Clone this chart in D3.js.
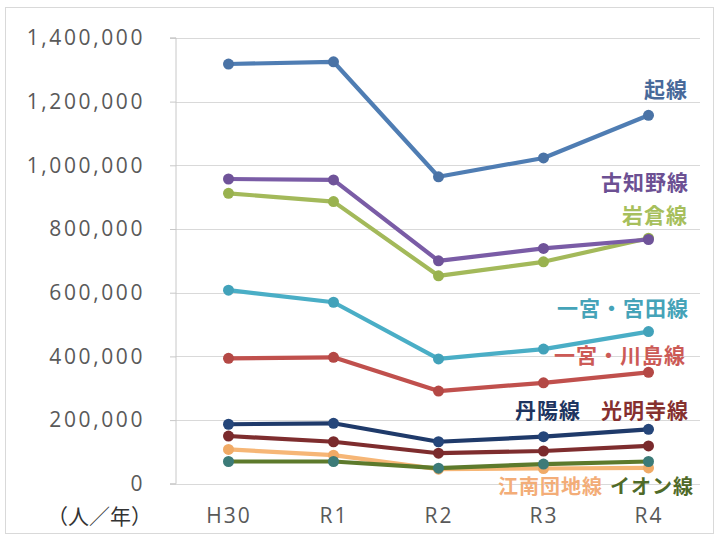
<!DOCTYPE html>
<html>
<head>
<meta charset="utf-8">
<script src="https://cdn.jsdelivr.net/npm/d3@7"></script>
<style>
  html, body { margin: 0; padding: 0; background: #ffffff; }
  svg { display: block; }
</style>
</head>
<body>
<svg id="chart" width="720" height="540"></svg>
<script>
// ---- data ----
const categories = ["H30", "R1", "R2", "R3", "R4"];
const yTicks = [0, 200000, 400000, 600000, 800000, 1000000, 1200000, 1400000];
const unitLabel = "（人／年）";

const okoshi    = [1318000, 1325000, 964000, 1023000, 1157000];
const iwakura   = [912000, 886000, 653000, 697000, 771000];
const kochino   = [957000, 954000, 700000, 739000, 767000];
const miyata    = [608000, 570000, 392000, 423000, 478000];
const kawashima = [394000, 397000, 291000, 317000, 350000];
const komyoji   = [150000, 132000, 96000, 103000, 119000];
const tanyo     = [187000, 190000, 132000, 148000, 171000];
const konan     = [108000, 90000, 46000, 48000, 50000];
const aeon      = [70000, 70000, 49000, 62000, 70000];

const seriesNames = ["起線", "岩倉線", "古知野線", "一宮・宮田線", "一宮・川島線", "光明寺線", "丹陽線", "江南団地線", "イオン線"];
const seriesValues = [okoshi, iwakura, kochino, miyata, kawashima, komyoji, tanyo, konan, aeon];

// ---- styles ----
const lineColors   = ["#4f7db3", "#a3b95a", "#7a5ca6", "#4aaec6", "#c0504d", "#7e2d2e", "#1f3a6a", "#f6b676", "#5d7a2c"];
const markerColors = ["#4a73a6", "#99b24f", "#6f5399", "#42a2ba", "#b44845", "#7a2a2c", "#25467a", "#f0aa66", "#3c7b78"];
const labelColors  = ["#48699a", "#a7bf5c", "#6c5093", "#45a3b8", "#cc5a56", "#86302f", "#1e3560", "#f3ad78", "#4f6a28"];
// label placement: right edge x, centre y (pixels)
const labelPos = [
  [688, 89], [688, 215], [689, 182], [689, 308], [686, 355],
  [689, 410], [581, 410], [603, 487], [694, 487]
];

const W = 720, H = 540;
const plot = { left: 176, right: 701, top: 37.9, bottom: 483.8 };

const svg = d3.select("#chart");

// outer frame
svg.append("rect")
  .attr("x", 5.5).attr("y", 7.5).attr("width", 708).attr("height", 526)
  .attr("fill", "#ffffff").attr("stroke", "#d9d9d9").attr("stroke-width", 1);

const x = d3.scalePoint().domain(categories).range([plot.left, plot.right]).padding(0.5);
const y = d3.scaleLinear().domain([0, 1400000]).range([plot.bottom, plot.top]);

// gridlines
svg.append("g")
  .selectAll("line")
  .data(yTicks)
  .join("line")
  .attr("x1", plot.left).attr("x2", plot.right - 1)
  .attr("y1", d => Math.round(y(d)) + 0.5).attr("y2", d => Math.round(y(d)) + 0.5)
  .attr("stroke", "#d9d9d9").attr("stroke-width", 1.2);

// y axis
const yAxis = d3.axisLeft(y).tickValues(yTicks).tickSize(6)
  .tickFormat(d3.format(","));
const gy = svg.append("g").attr("transform", `translate(${plot.left},0)`).call(yAxis);
gy.select(".domain").attr("stroke", "#c8c8c8").attr("d", `M-6,${y(1400000)}H0V${y(0)}H-6`);
gy.selectAll(".tick line").attr("stroke", "#c8c8c8");
gy.selectAll(".tick text")
  .attr("x", -31)
  .attr("fill", "#595959")
  .style("font-family", "'Open Sans', sans-serif")
  .style("font-size", "21px")
  .style("letter-spacing", "2.6px");

// x axis labels
const xAxis = d3.axisBottom(x).tickSize(0).tickPadding(24);
const gx = svg.append("g").attr("transform", `translate(0,${plot.bottom})`).call(xAxis);
gx.select(".domain").remove();
gx.selectAll(".tick text")
  .attr("fill", "#595959")
  .style("font-family", "'Open Sans', sans-serif")
  .style("font-size", "21px")
  .style("letter-spacing", "2px");

// unit label
svg.append("text")
  .attr("x", 152).attr("y", 517).attr("dy", "0.35em")
  .attr("text-anchor", "end")
  .attr("fill", "#333333")
  .style("font-family", "'Noto Sans CJK JP', sans-serif")
  .style("font-size", "21px")
  .text(unitLabel);

// lines
const line = d3.line().x((d, i) => x(categories[i])).y(d => y(d));
const series = seriesNames.map((name, k) => ({ name, values: seriesValues[k], k }));

const gs = svg.append("g").selectAll("g").data(series).join("g");
gs.append("path")
  .attr("d", d => line(d.values))
  .attr("fill", "none")
  .attr("stroke", d => lineColors[d.k])
  .attr("stroke-width", 4.2)
  .attr("stroke-linejoin", "round");
gs.selectAll("circle")
  .data(d => d.values.map((v, i) => ({ v, i, k: d.k })))
  .join("circle")
  .attr("cx", d => x(categories[d.i]))
  .attr("cy", d => y(d.v))
  .attr("r", 5.5)
  .attr("fill", d => markerColors[d.k]);

// series labels
svg.append("g").selectAll("text")
  .data(series)
  .join("text")
  .attr("x", d => labelPos[d.k][0])
  .attr("y", d => labelPos[d.k][1])
  .attr("dy", "0.36em")
  .attr("text-anchor", "end")
  .attr("fill", d => labelColors[d.k])
  .style("font-family", "'Noto Sans CJK JP', sans-serif")
  .style("font-weight", "bold")
  .style("font-size", d => d.k >= 7 ? "20px" : "21px")
  .style("letter-spacing", "1px")
  .text(d => d.name);
</script>
</body>
</html>
